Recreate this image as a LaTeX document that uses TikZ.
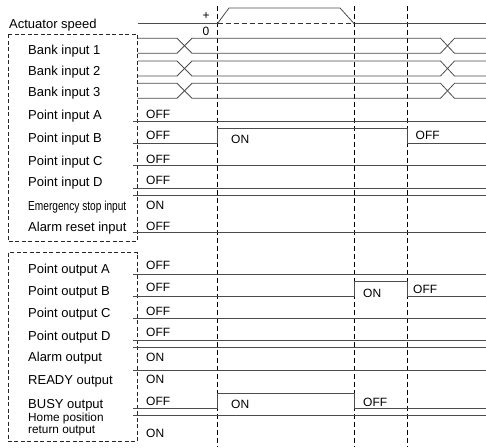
\documentclass[tikz,border=0pt]{standalone}
\usepackage{fontspec}
\setmainfont{Liberation Sans}
\begin{document}
\begin{tikzpicture}[x=1pt,y=-1pt,
  sig/.style={draw=black!70, line width=0.8pt},
  guide/.style={draw=black, line width=0.7pt, dash pattern=on 5pt off 3pt},
  frame/.style={draw=black!85, line width=0.7pt, dash pattern=on 4pt off 2.5pt},
  lbl/.style={anchor=base west, inner sep=0pt, font=\fontsize{13}{14}\selectfont},
  st/.style={anchor=base west, inner sep=0pt, font=\fontsize{12}{13}\selectfont}]
\useasboundingbox (0,0) rectangle (486,447);
% frames
\draw[frame] (8.3,34.3) rectangle (137.5,241.7);
\draw[frame] (8.3,252.7) rectangle (137.5,441.7);
% guides
\coordinate (g1t) at (217.5,6); \coordinate (g1b) at (217.5,447);
\coordinate (g2t) at (354,6); \coordinate (g2b) at (354,447);
\coordinate (g3t) at (407.7,6); \coordinate (g3b) at (407.7,447);
\draw[guide] (g1t) -- (g1b);
\draw[guide] (g2t) -- (g2b);
\draw[guide] (g3t) -- (g3b);
% labels
\node[lbl] (lspeed) at (9,28.5) {Actuator speed};
\node[lbl] (lb1) at (28,54) {Bank input 1};
\node[lbl] (lb2) at (28,75) {Bank input 2};
\node[lbl] (lb3) at (28,96.5) {Bank input 3};
\node[lbl] (lpa) at (28,119.5) {Point input A};
\node[lbl] (lpb) at (28,142.8) {Point input B};
\node[lbl] (lpc) at (28,165.5) {Point input C};
\node[lbl] (lpd) at (28,186.2) {Point input D};
\node[lbl] (lem) at (28,210.5) {\scalebox{0.78}[1]{Emergency stop input}};
\node[lbl] (lar) at (28,231.2) {Alarm reset input};
\node[lbl] (loa) at (28,273.5) {Point output A};
\node[lbl] (lob) at (28,295.2) {Point output B};
\node[lbl] (loc) at (28,317.5) {Point output C};
\node[lbl] (lod) at (28,340.2) {Point output D};
\node[lbl] (lal) at (28,361.8) {Alarm output};
\node[lbl] (lrd) at (28,384.5) {READY output};
\node[lbl] (lbs) at (28,408) {BUSY output};
\node[lbl, font=\fontsize{11.8}{12}\selectfont] (lhm1) at (28,421.8) {Home position};
\node[lbl, font=\fontsize{11.8}{12}\selectfont] (lhm2) at (28,433.8) {return output};
% speed
\node[st, anchor=center] (plus) at (206,16.2) {+};
\node[st, anchor=center] (zero) at (206,31.7) {0};
\draw[sig] (138,23.5) -- (217.5,23.5) -- (229,8) -- (340,8) -- (354,23.5) -- (486,23.5);
\draw[draw=black!80, line width=0.7pt, dash pattern=on 5pt off 3pt] (217.5,23.5) -- (354,23.5);
% bank inputs
\foreach \t/\b in {38.3/53.3, 61/76, 83.3/98.3}{
  \draw[sig] (137.7,\t) -- (177,\t) -- (192,\b) -- (440.5,\b) -- (454.5,\t) -- (486,\t);
  \draw[sig] (137.7,\b) -- (177,\b) -- (192,\t) -- (440.5,\t) -- (454.5,\b) -- (486,\b);
}
% point inputs
\draw[sig] (133,121) -- (486,121);
\draw[sig] (133,143.3) -- (217.5,143.3) -- (217.5,128.3) -- (407.7,128.3) -- (407.7,143.3) -- (486,143.3);
\draw[sig] (133,165.7) -- (486,165.7);
\draw[sig] (133,188.3) -- (486,188.3);
\draw[sig] (133,195.7) -- (486,195.7);
\draw[sig] (133,232.7) -- (486,232.7);
\node[st] (sa) at (146,118.3) {OFF};
\node[st] (sb1) at (146,139.3) {OFF};
\node[st] (sb2) at (231,143.3) {ON};
\node[st] (sb3) at (415.5,139.3) {OFF};
\node[st] (sc) at (146,163.7) {OFF};
\node[st] (sd) at (146,184.3) {OFF};
\node[st] (se) at (146,209.3) {ON};
\node[st] (sr) at (146,230) {OFF};
% outputs
\draw[sig] (133,274) -- (486,274);
\draw[sig] (133,296.7) -- (354,296.7) -- (354,281.5) -- (407.7,281.5) -- (407.7,296.7) -- (486,296.7);
\draw[sig] (133,318.3) -- (486,318.3);
\draw[sig] (133,340.7) -- (486,340.7);
\draw[sig] (133,347.3) -- (486,347.3);
\draw[sig] (133,370.7) -- (486,370.7);
\draw[sig] (133,408.3) -- (217.5,408.3) -- (217.5,393.3) -- (354,393.3) -- (354,408.3) -- (486,408.3);
\draw[sig] (133,415.7) -- (486,415.7);
\node[st] (ta) at (146,269.3) {OFF};
\node[st] (tb1) at (146,291.7) {OFF};
\node[st] (tb2) at (363,297) {ON};
\node[st] (tb3) at (413,293.3) {OFF};
\node[st] (tc) at (146,315) {OFF};
\node[st] (td) at (146,336.7) {OFF};
\node[st] (tal) at (146,361.7) {ON};
\node[st] (trd) at (146,383.7) {ON};
\node[st] (tbs1) at (146,405) {OFF};
\node[st] (tbs2) at (231,408.3) {ON};
\node[st] (tbs3) at (363,406) {OFF};
\node[st] (thm) at (146,437.7) {ON};
\end{tikzpicture}
\end{document}
